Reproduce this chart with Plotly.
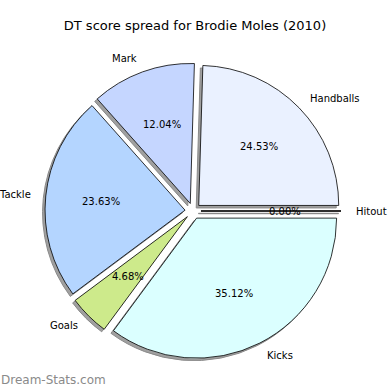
import math
import plotly.graph_objects as go

# ---- data ----
labels = ["Kicks", "Hitout", "Handballs", "Mark", "Tackle", "Goals"]
values = [35.12, 0.00, 24.53, 12.04, 23.63, 4.68]
colors = ["#dbffff", "#f0f0f0", "#eaf1ff", "#c5d6ff", "#b4d5ff", "#cdea8b"]
title = "DT score spread for Brodie Moles (2010)"
watermark = "Dream-Stats.com"

# ---- layout geometry (pixels) ----
W = H = 390
CX, CY = 193, 211          # pie centre
HALF = 148                 # half of domain size
PULL = 0.057
R = HALF / (1 + PULL)      # slice radius
D = PULL * R               # explode offset
SH = 2.5                   # shadow offset (left/down)
FONT = "DejaVu Sans"


def px(x):
    return x / W


def py(y):
    return 1 - y / H


dom_x = [px(CX - HALF), px(CX + HALF)]
dom_y = [py(CY + HALF), py(CY - HALF)]

common = dict(labels=labels, values=values, sort=False, direction="counterclockwise",
              rotation=90, pull=[PULL] * len(values), textinfo="none", showlegend=False)

fig = go.Figure()
# shadow
fig.add_trace(go.Pie(
    **common,
    marker=dict(colors=["#a0a0a0"] * len(values), line=dict(color="#8a8a8a", width=1)),
    hoverinfo="skip",
    domain=dict(x=[dom_x[0] - SH / W, dom_x[1] - SH / W],
                y=[dom_y[0] - SH / H, dom_y[1] - SH / H]),
))
# main pie
fig.add_trace(go.Pie(
    **common,
    marker=dict(colors=colors, line=dict(color="black", width=0.8)),
    hoverinfo="label+percent",
    domain=dict(x=dom_x, y=dom_y),
))

# slice angles, following plotly's counterclockwise layout:
# first slice sits just clockwise of 3 o'clock, the rest run counterclockwise from it
total = sum(values)
spans = []
first = values[0] / total * 360
spans.append((-first, 0.0))
cum = 0.0
for v in values[1:]:
    a0 = cum
    cum += v / total * 360
    spans.append((a0, cum))

annotations = []
shapes = []
for lab, v, (a0, a1) in zip(labels, values, spans):
    mid = math.radians((a0 + a1) / 2)
    c, s = math.cos(mid), math.sin(mid)
    ox, oy = CX + D * c, CY - D * s
    lx, ly = ox + 1.1 * R * c, oy - 1.1 * R * s
    annotations.append(dict(
        x=px(lx), y=py(ly), xref="paper", yref="paper", text=lab, showarrow=False,
        xanchor="left" if c > 0 else "right", yanchor="middle", borderpad=0,
        font=dict(family=FONT, size=10, color="black")))
    tx, ty = ox + 0.6 * R * c, oy - 0.6 * R * s
    annotations.append(dict(
        x=px(tx), y=py(ty), xref="paper", yref="paper",
        text=f"{v / total * 100:.2f}%", showarrow=False,
        xanchor="center", yanchor="middle", borderpad=0,
        font=dict(family=FONT, size=10, color="black")))
    if v == 0:
        ex, ey = ox + R * c, oy - R * s
        shapes.append(dict(type="line", xref="paper", yref="paper",
                           x0=px(ox - SH), y0=py(oy + SH), x1=px(ex - SH), y1=py(ey + SH),
                           line=dict(color="#a0a0a0", width=1.5), layer="below"))
        shapes.append(dict(type="line", xref="paper", yref="paper",
                           x0=px(ox), y0=py(oy), x1=px(ex), y1=py(ey),
                           line=dict(color="black", width=1)))

annotations.append(dict(
    x=0, y=py(380), xref="paper", yref="paper", text=watermark,
    showarrow=False, xanchor="left", yanchor="middle", borderpad=0,
    font=dict(family=FONT, size=12, color="#8a8a8a")))

fig.update_layout(
    width=W, height=H, margin=dict(l=0, r=0, t=0, b=0),
    paper_bgcolor="white", plot_bgcolor="white",
    title=dict(text=title, x=0.5, xanchor="center", y=py(25), yanchor="middle",
               font=dict(family=FONT, size=13, color="black")),
    annotations=annotations, shapes=shapes,
)

fig.write_html("out.html", config={"displayModeBar": False},
               post_script="document.body.style.margin='0';document.body.style.overflow='hidden';")
